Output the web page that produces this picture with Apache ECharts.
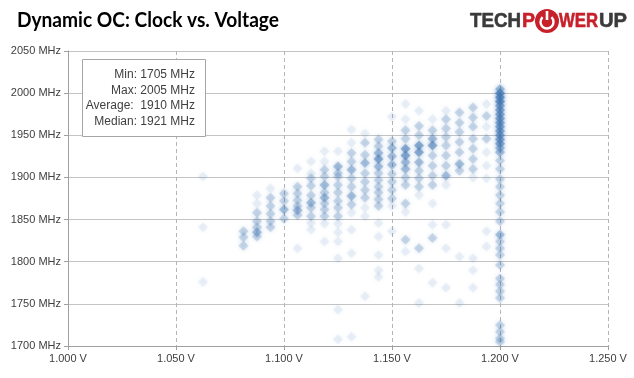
<!DOCTYPE html>
<html>
<head>
<meta charset="utf-8">
<script src="https://cdn.jsdelivr.net/npm/echarts@6/dist/echarts.min.js"></script>
<style>
html,body{margin:0;padding:0;background:#fff;}
#c{width:634px;height:378px;}
</style>
</head>
<body>
<div id="c"></div>
<script>
// ---- data (voltage columns; each entry = [clock MHz, density weight 1..5]) ----
const voltages = [1.0625, 1.08125, 1.0875, 1.09375, 1.1, 1.10625, 1.1125, 1.11875, 1.125, 1.13125,
  1.1375, 1.14375, 1.15, 1.15625, 1.1625, 1.16875, 1.175, 1.18125, 1.1875, 1.19375, 1.2];
const c1_0625 = [[1901,1],[1841,1],[1776,1]];
const c1_08125 = [[1836,2],[1829,2],[1819,2]];
const c1_0875 = [[1879,1],[1869,1],[1858,2],[1848,2],[1841,2],[1835,3],[1830,2]];
const c1_09375 = [[1887,1],[1876,2],[1866,2],[1857,2],[1848,2],[1841,2]];
const c1_1 = [[1881,2],[1872,2],[1862,3],[1851,2]];
const c1_10625 = [[1911,1],[1889,2],[1881,2],[1873,2],[1866,2],[1861,3],[1855,2],[1816,1]];
const c1_1125 = [[1919,1],[1905,1],[1899,2],[1890,2],[1879,2],[1870,3],[1864,2],[1854,2],[1846,1],[1838,1]];
const c1_11875 = [[1931,1],[1919,1],[1909,2],[1901,2],[1891,3],[1882,2],[1876,3],[1869,2],[1862,2],[1854,2],[1845,1],[1824,1]];
const c1_125 = [[1931,1],[1913,3],[1905,2],[1901,2],[1891,2],[1882,2],[1872,2],[1864,2],[1854,2],[1845,1],[1835,1],[1824,1],[1804,1],[1743,1],[1708,1]];
const c1_13125 = [[1957,1],[1941,1],[1929,2],[1919,2],[1909,3],[1899,2],[1889,2],[1878,3],[1868,2],[1858,1],[1838,1],[1810,1],[1711,1]];
const c1_1375 = [[1952,1],[1941,2],[1927,2],[1917,3],[1905,2],[1895,2],[1885,2],[1876,2],[1864,1],[1854,1],[1759,1]];
const c1_14375 = [[1945,2],[1937,2],[1929,3],[1922,4],[1913,3],[1905,2],[1897,2],[1889,2],[1882,2],[1874,2],[1866,2],[1846,1],[1830,1],[1808,1],[1790,1],[1782,1]];
const c1_15 = [[1972,1],[1943,2],[1935,3],[1925,3],[1915,3],[1904,2],[1895,2],[1885,2],[1875,2],[1866,1],[1836,1]];
const c1_15625 = [[1987,1],[1969,1],[1956,2],[1946,2],[1934,4],[1926,4],[1918,3],[1910,3],[1900,2],[1891,2],[1869,2],[1859,1],[1826,2],[1812,1]];
const c1_1625 = [[1979,1],[1961,2],[1950,2],[1938,4],[1930,4],[1918,3],[1908,2],[1899,2],[1889,2],[1879,1],[1816,2],[1792,1],[1751,1]];
const c1_16875 = [[1969,1],[1956,2],[1946,3],[1938,4],[1926,2],[1914,2],[1902,2],[1891,2],[1869,1],[1844,1],[1828,2],[1775,1]];
const c1_175 = [[1979,1],[1969,2],[1958,2],[1948,2],[1938,2],[1926,2],[1914,2],[1902,3],[1891,1],[1844,1],[1816,1],[1769,1]];
const c1_18125 = [[1977,2],[1965,2],[1954,2],[1942,2],[1930,2],[1916,3],[1908,2],[1806,1],[1751,1]];
const c1_1875 = [[1983,2],[1971,2],[1960,2],[1946,2],[1934,2],[1922,2],[1910,2],[1900,1],[1804,1],[1790,1],[1769,1]];
const c1_19375 = [[1987,1],[1973,2],[1960,1],[1946,2],[1930,1],[1914,1],[1899,1],[1836,1],[1818,1]];
const c1_2 = [[2005,3],[2000,5],[1995,5],[1990,5],[1985,4],[1980,4],[1975,4],[1970,4],[1965,4],[1960,4],[1955,4],[1950,4],[1945,4],[1940,4],[1935,3],[1930,3],
  [1920,2],[1910,2],[1898,2],[1889,2],[1879,2],[1869,2],[1859,2],[1848,2],[1832,3],[1824,2],[1816,2],[1808,2],[1796,2],[1780,2],[1773,2],[1765,2],[1757,2],
  [1725,2],[1717,2],[1709,2],[1705,2]];
const columns = [c1_0625, c1_08125, c1_0875, c1_09375, c1_1, c1_10625, c1_1125, c1_11875, c1_125, c1_13125,
  c1_1375, c1_14375, c1_15, c1_15625, c1_1625, c1_16875, c1_175, c1_18125, c1_1875, c1_19375, c1_2];

const yTicks = [1700, 2050, 50];          // min, max, step (MHz)
const xTicks = [1.0, 1.25, 0.05];         // min, max, step (V)
const stats = [['Min:', '1705 MHz'], ['Max:', '2005 MHz'], ['Average: ', '1910 MHz'], ['Median:', '1921 MHz']];
const titleText = 'Dynamic OC: Clock vs. Voltage';

// ---- build ----
const points = [];
columns.forEach((col, i) => col.forEach(([mhz, w]) => points.push([voltages[i], mhz, w])));

function fitScale(text, font, target) {
  const ctx = document.createElement('canvas').getContext('2d');
  ctx.font = font;
  return target / ctx.measureText(text).width;
}

const FONT = '"Liberation Sans", Arial, sans-serif';
const titleFont = 'bold 20px Lato';
const logoFont = 'bold 21px "Liberation Sans"';
const red = '#c8202a', dark = '#3a3a3a';

function logoText(t, x0, x1, color) {
  return { type: 'text', x: x0, y: 21, scaleX: fitScale(t, logoFont, x1 - x0), originX: 0, originY: 0,
    style: { text: t, x: 0, y: 0, font: logoFont, fill: color, stroke: color, lineWidth: 0.6, verticalAlign: 'middle', align: 'left' }, z: 100 };
}

const statGraphics = [
  { type: 'rect', shape: { x: 82.5, y: 59.5, width: 123, height: 77 }, style: { fill: '#fff', stroke: '#a6a6a6', lineWidth: 1 }, z: 100 }
];
stats.forEach((s, i) => {
  statGraphics.push({ type: 'text', z: 101,
    style: { text: s[0] + ' ' + s[1], x: 195, y: 74.5 + i * 15.8, font: '12px ' + FONT, fill: '#404040', align: 'right', verticalAlign: 'middle' } });
});

const chart = echarts.init(document.getElementById('c'), null, { renderer: 'canvas' });
chart.setOption({
  animation: false,
  backgroundColor: '#fff',
  grid: { left: 68, right: 26, top: 51, bottom: 32, containLabel: false, outerBoundsMode: 'none' },
  xAxis: {
    type: 'value', min: xTicks[0], max: xTicks[1], interval: xTicks[2],
    axisLine: { show: true, lineStyle: { color: '#a0a0a0' } },
    axisTick: { show: true, length: 4, lineStyle: { color: '#a0a0a0' } },
    splitLine: { show: true, lineStyle: { type: [4, 3], color: '#b4b4b4' } },
    axisLabel: { formatter: v => v.toFixed(3) + ' V', color: '#404040', fontSize: 11, fontFamily: FONT, margin: 7 }
  },
  yAxis: {
    type: 'value', min: yTicks[0], max: yTicks[1], interval: yTicks[2],
    axisLine: { show: true, lineStyle: { color: '#a0a0a0' } },
    axisTick: { show: true, length: 4, lineStyle: { color: '#a0a0a0' } },
    splitLine: { show: true, lineStyle: { color: '#c4c4c4' } },
    axisLabel: { formatter: v => v + ' MHz', color: '#404040', fontSize: 11, fontFamily: FONT, margin: 7 }
  },
  visualMap: { show: false, type: 'continuous', dimension: 2, min: 1, max: 5, seriesIndex: 0,
    inRange: { opacity: [0.08, 0.62] } },
  series: [{
    type: 'scatter', data: points, symbol: 'diamond', symbolSize: 10,
    itemStyle: { color: '#3d74b2', shadowBlur: 4, shadowColor: 'rgba(61,116,178,0.9)' }, silent: true
  }],
  graphic: [
    { type: 'text', x: 17, y: 21, scaleX: fitScale(titleText, titleFont, 262), originX: 0,
      style: { text: titleText, x: 0, y: 0, font: titleFont, fill: '#000', verticalAlign: 'middle', align: 'left' }, z: 100 },
    logoText('TECH', 470, 521, dark),
    logoText('P', 522, 535, red),
    { type: 'circle', shape: { cx: 547, cy: 21, r: 12 }, style: { fill: red }, z: 100 },
    { type: 'arc', shape: { cx: 547, cy: 22, r: 6.5, startAngle: -Math.PI / 2 + 0.75, endAngle: -Math.PI / 2 - 0.75 + Math.PI * 2 },
      style: { stroke: '#fff', lineWidth: 2.4, fill: null }, z: 101 },
    { type: 'line', shape: { x1: 547, y1: 11, x2: 547, y2: 20 }, style: { stroke: '#fff', lineWidth: 2.6 }, z: 101 },
    logoText('WER', 559, 598, red),
    logoText('UP', 599, 627, dark),
    ...statGraphics
  ]
});
</script>
</body>
</html>
